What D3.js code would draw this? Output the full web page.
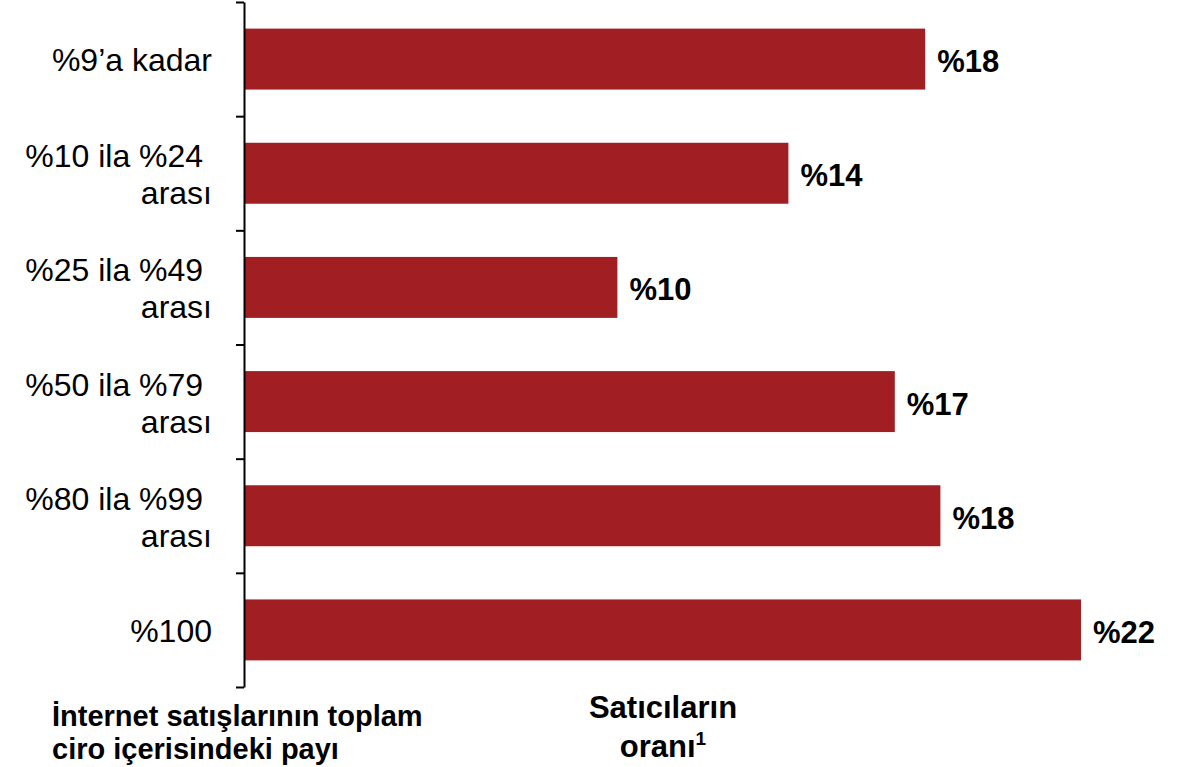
<!DOCTYPE html>
<html>
<head>
<meta charset="utf-8">
<script src="https://cdn.jsdelivr.net/npm/d3@7"></script>
<style>
  body { margin: 0; background: #fff; }
  svg { display: block; font-family: "Liberation Sans", Arial, sans-serif; }
</style>
</head>
<body>
<div id="chart"></div>
<script>
// categories, each entry is the lines of a label
var categories = [
  ["%9\u2019a kadar"],
  ["%10 ila %24\u00a0", "arası"],
  ["%25 ila %49\u00a0", "arası"],
  ["%50 ila %79\u00a0", "arası"],
  ["%80 ila %99\u00a0", "arası"],
  ["%100"]
];
var values = [17.9, 14.3, 9.8, 17.1, 18.3, 22.0];
var valueLabels = ["%18", "%14", "%10", "%17", "%18", "%22"];
var leftTitle = ["İnternet satışlarının toplam", "ciro içerisindeki payı"];
var bottomTitle = ["Satıcıların", "oranı"];

var WIDTH = 1183, HEIGHT = 767;
var BAR_COLOR = "#a11f22";

var svg = d3.select("#chart").append("svg")
  .attr("width", WIDTH)
  .attr("height", HEIGHT);

var keys = d3.range(categories.length);

var y = d3.scaleBand()
  .domain(keys)
  .range([2, 687])
  .paddingInner(0.466)
  .paddingOuter(0.233);

// boundaries between the bands, for the tick marks
var yEdge = d3.scaleLinear()
  .domain([0, categories.length])
  .range([2, 687]);

var x = d3.scaleLinear()
  .domain([0, 22])
  .range([245, 1081]);

// bars
svg.selectAll("rect.bar")
  .data(keys)
  .enter().append("rect")
  .attr("class", "bar")
  .attr("x", x(0))
  .attr("y", function(i) { return y(i); })
  .attr("width", function(i) { return x(values[i]) - x(0); })
  .attr("height", y.bandwidth())
  .attr("fill", BAR_COLOR);

// axis with ticks between categories
var axis = svg.append("g")
  .attr("transform", "translate(244,0)")
  .call(d3.axisLeft(yEdge)
    .tickValues(d3.range(categories.length + 1))
    .tickFormat("")
    .tickSize(8)
    .tickSizeOuter(0));
axis.selectAll("path, line").attr("stroke", "#000").attr("stroke-width", 2);

// category labels
var catText = svg.selectAll("text.cat")
  .data(keys)
  .enter().append("text")
  .attr("class", "cat")
  .attr("text-anchor", "end")
  .attr("font-size", 32)
  .attr("fill", "#000")
  .attr("y", function(i) {
    var c = y(i) + y.bandwidth() / 2;
    return categories[i].length > 1 ? c - 6 : c + 12;
  });

catText.selectAll("tspan")
  .data(function(i) { return categories[i]; })
  .enter().append("tspan")
  .attr("x", 212)
  .attr("dy", function(d, j) { return j === 0 ? 0 : 37; })
  .text(function(d) { return d; });

// value labels
svg.selectAll("text.val")
  .data(keys)
  .enter().append("text")
  .attr("class", "val")
  .attr("x", function(i) { return x(values[i]) + 12; })
  .attr("y", function(i) { return y(i) + y.bandwidth() / 2 + 13; })
  .attr("font-size", 31)
  .attr("font-weight", "bold")
  .text(function(i) { return valueLabels[i]; });

// title under the category axis
svg.append("text")
  .attr("font-size", 29)
  .attr("font-weight", "bold")
  .selectAll("tspan")
  .data(leftTitle)
  .enter().append("tspan")
  .attr("x", 52)
  .attr("y", function(d, j) { return 726 + j * 33; })
  .text(function(d) { return d; });

// title under the bars
var bt = svg.append("text")
  .attr("font-size", 31)
  .attr("font-weight", "bold")
  .attr("text-anchor", "middle");
bt.append("tspan").attr("x", 663).attr("y", 718).text(bottomTitle[0]);
bt.append("tspan").attr("x", 663).attr("y", 757).text(bottomTitle[1]);
bt.append("tspan").attr("font-size", 19).attr("dy", -12).text("1");
</script>
</body>
</html>
